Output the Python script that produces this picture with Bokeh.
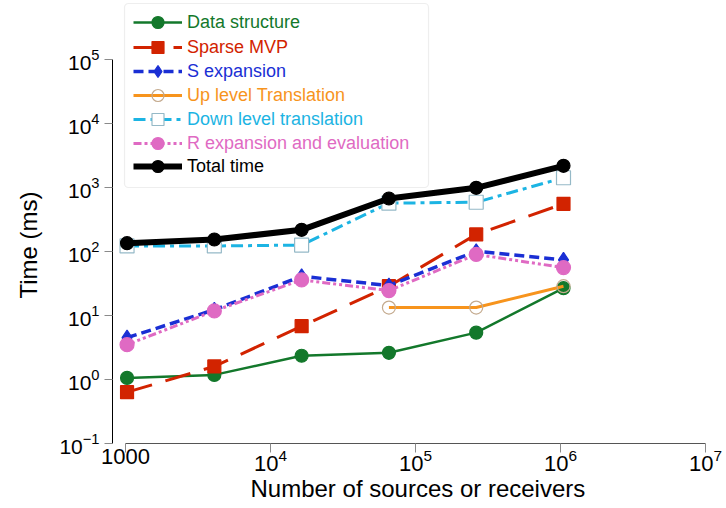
import math
from bokeh.plotting import figure
from bokeh.models import FixedTicker, LogTickFormatter, Legend, LegendItem, BoxAnnotation, Title
from bokeh.embed import file_html
from bokeh.resources import INLINE

nan = float("nan")

# ---- data ----
n_points = [1024, 4096, 16384, 65536, 262144, 1048576]
data_structure = [1.06, 1.18, 2.35, 2.61, 5.4, 26.7]
sparse_mvp = [0.634, 1.6, 6.8, 28.7, 185, 556]
s_expansion = [4.5, 12.3, 41, 29.4, 101, 74]
up_level = [nan, nan, nan, 13.3, 13.3, 28.7]
down_level = [122, 122, 126, 569, 588, 1419]
r_expansion = [3.5, 11.8, 36, 24.5, 90, 56]
total_time = [135, 154, 218, 673, 988, 2183]

x_ticks = [1000, 1e4, 1e5, 1e6, 1e7]
y_ticks = [0.1, 1, 10, 100, 1e3, 1e4, 1e5]

x_title = "Number of sources or receivers"
y_title = "Time (ms)"

FONT = "Liberation Sans"

p = figure(width=726, height=508, x_axis_type="log", y_axis_type="log",
           x_range=(10 ** 2.91, 1e7), y_range=(0.1, 10 ** (5 + 59 / 64)),
           output_backend="svg", toolbar_location=None,
           min_border_left=112, min_border_right=21, min_border_top=0,
           min_border_bottom=65)
p.outline_line_color = None
p.grid.visible = False
p.background_fill_color = "white"

for ax, ticks, fmt in ((p.xaxis[0], x_ticks, LogTickFormatter(min_exponent=4)),
                       (p.yaxis[0], y_ticks, LogTickFormatter())):
    ax.ticker = FixedTicker(ticks=ticks, minor_ticks=[])
    ax.formatter = fmt
    ax.major_tick_in = 0
    ax.minor_tick_in = 0
    ax.minor_tick_out = 0
    ax.major_label_text_font = FONT
    ax.major_label_text_color = "black"
    ax.major_tick_line_color = "#8a8a8a"

p.xaxis.major_label_text_font_size = "22px"
p.yaxis.major_label_text_font_size = "21px"
p.xaxis.bounds = (1000, 1e7)
p.yaxis.bounds = (0.1, 1e5)
p.xaxis.major_tick_out = 9
p.yaxis.major_tick_out = 8
p.xaxis.axis_line_color = "#555555"
p.yaxis.axis_line_color = "black"
p.xaxis.major_label_standoff = -4
p.yaxis.major_label_standoff = 5

# axis titles
p.add_layout(Title(text=x_title, align="left", offset=138, standoff=0,
                   vertical_align="middle", text_font=FONT, text_font_size="24px",
                   text_font_style="normal", text_color="black"), "below")
p.add_layout(Title(text=y_title, align="left", offset=145, standoff=26,
                   vertical_align="top", text_font=FONT, text_font_size="24px",
                   text_font_style="normal", text_color="black"), "left")

series = [
    ("Data structure", data_structure, dict(color="#13782b", width=2.5, dash="solid"),
     dict(marker="circle", size=13, fill="#13782b", line="#13782b")),
    ("Sparse MVP", sparse_mvp, dict(color="#d22300", width=3, dash="26 14"),
     dict(marker="square", size=13, fill="#d22300", line="#d22300")),
    ("S expansion", s_expansion, dict(color="#1a2fd4", width=3.5, dash="10 5"),
     dict(marker="diamond", size=15, fill="#1a2fd4", line="#1a2fd4")),
    ("Up level Translation", up_level, dict(color="#f7941d", width=3, dash="solid"),
     dict(marker="circle", size=13, fill=None, line="#c4aa8e")),
    ("Down level translation", down_level, dict(color="#1cb4e3", width=3, dash="12 5 4 5"),
     dict(marker="square", size=14, fill="white", line="#95b9c7")),
    ("R expansion and evaluation", r_expansion, dict(color="#df6ac3", width=3, dash="8 3 3 3 3 3"),
     dict(marker="circle", size=14, fill="#df6ac3", line="#df6ac3")),
    ("Total time", total_time, dict(color="black", width=6, dash="solid"),
     dict(marker="circle", size=13, fill="black", line="black")),
]

frame_bottom = 443

# legend frame
box = BoxAnnotation(left=12, right=316, top=frame_bottom - 3, bottom=frame_bottom - 187,
                    left_units="screen", right_units="screen",
                    top_units="screen", bottom_units="screen",
                    fill_color="white", fill_alpha=1.0,
                    line_color="#c8c8c8", line_width=1.2, border_radius=4)
p.add_layout(box)

row_centers = [22, 47, 71, 95, 119, 143, 166]  # page pixels
GH = 30

for (label, ys, ln, mk), rc in zip(series, row_centers):
    r_line = p.line(n_points, ys, line_color=ln["color"], line_width=ln["width"],
                    line_dash=ln["dash"])
    kw = dict(marker=mk["marker"], size=mk["size"], line_color=mk["line"], line_width=1.2)
    if mk["fill"] is None:
        kw["fill_alpha"] = 0
        kw["fill_color"] = "white"
    else:
        kw["fill_color"] = mk["fill"]
    r_sc = p.scatter(n_points, ys, **kw)
    leg = Legend(items=[LegendItem(label=label, renderers=[r_line, r_sc])],
                 location=(21, frame_bottom - (rc + GH / 2)),
                 padding=0, margin=0, spacing=0,
                 glyph_width=49, glyph_height=GH, label_height=GH,
                 label_standoff=5,
                 label_text_font=FONT, label_text_font_size="18px",
                 label_text_color=ln["color"],
                 border_line_color=None, background_fill_alpha=0)
    p.add_layout(leg)

open("out.html", "w").write(file_html(p, INLINE))
